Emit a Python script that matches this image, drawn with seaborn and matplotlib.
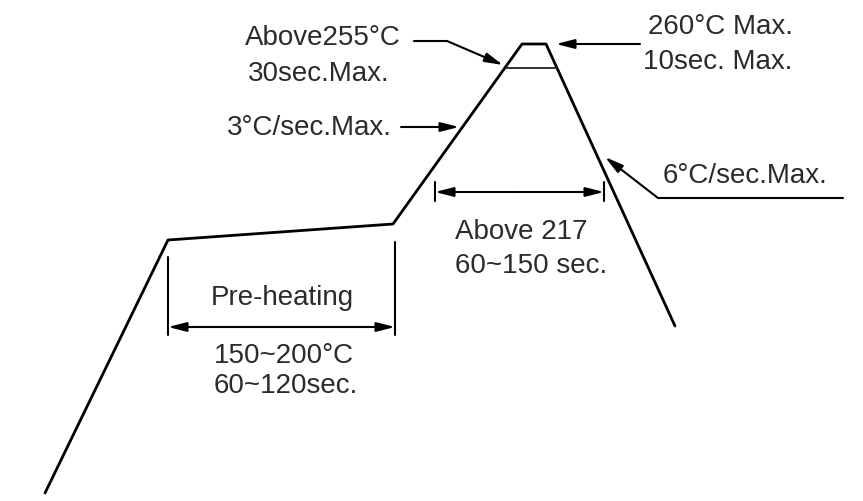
import numpy as np
import pandas as pd
import seaborn as sns
import matplotlib.pyplot as plt

# reflow profile outline, in picture units (x to the right, y downward)
profile_x = [45, 168, 393, 522, 546, 675]
profile_y = [493, 240, 224, 44, 44, 326]

# short line marking the 255 degree level near the peak
peak_band_x = [506, 556]
peak_band_y = [68, 68]

# labels
lbl_above255 = "Above255°C"
lbl_30sec = "30sec.Max."
lbl_ramp_up = "3°C/sec.Max."
lbl_peak = "260°C Max."
lbl_10sec = "10sec. Max."
lbl_ramp_down = "6°C/sec.Max."
lbl_above217 = "Above 217"
lbl_217_time = "60~150 sec."
lbl_preheat = "Pre-heating"
lbl_preheat_temp = "150~200°C"
lbl_preheat_time = "60~120sec."

sns.set_style("white")
plt.rcParams['font.family'] = ['Liberation Sans', 'DejaVu Sans']

fig = plt.figure(figsize=(8.63, 5.01), dpi=100)
ax = fig.add_axes([0, 0, 1, 1])

prof = pd.DataFrame({"x": profile_x, "y": profile_y})
sns.lineplot(data=prof, x="x", y="y", sort=False, color="black", lw=2.0, ax=ax)
sns.lineplot(x=peak_band_x, y=peak_band_y, color="#333333", lw=1.4, ax=ax)

ax.set_xlim(0, 863)
ax.set_ylim(501, 0)
ax.axis("off")

txt = dict(color="#2b2b2b", fontsize=20, va="center")
arrow = dict(arrowstyle="-|>,head_length=1.1,head_width=0.28", color="black",
             lw=1.5, shrinkA=0, shrinkB=0)
plain = dict(color="black", lw=1.5)

# upper left labels
ax.text(245, 38, lbl_above255, ha="left", **txt)
ax.text(248, 74, lbl_30sec, ha="left", **txt)
ax.plot([414, 447], [41, 41], **plain)
ax.annotate("", xy=(503, 65), xytext=(447, 41), arrowprops=arrow)

ax.text(227, 128, lbl_ramp_up, ha="left", **txt)
ax.annotate("", xy=(459, 127), xytext=(401, 127), arrowprops=arrow)

# peak labels
ax.text(648, 27, lbl_peak, ha="left", **txt)
ax.text(643, 62, lbl_10sec, ha="left", **txt)
ax.annotate("", xy=(556, 44), xytext=(640, 44), arrowprops=arrow)

# ramp down label
ax.text(663, 176, lbl_ramp_down, ha="left", **txt)
ax.plot([658, 843], [198, 198], **plain)
ax.annotate("", xy=(605, 157), xytext=(658, 198), arrowprops=arrow)

# above 217 dimension
ax.plot([435, 435], [182, 201], **plain)
ax.plot([604, 604], [182, 201], **plain)
ax.annotate("", xy=(435, 192), xytext=(520, 192), arrowprops=arrow)
ax.annotate("", xy=(604, 192), xytext=(519, 192), arrowprops=arrow)
ax.text(455, 232, lbl_above217, ha="left", **txt)
ax.text(455, 266, lbl_217_time, ha="left", **txt)

# preheat dimension
ax.plot([168, 168], [257, 335], **plain)
ax.plot([395, 395], [242, 335], **plain)
ax.annotate("", xy=(168, 327), xytext=(282, 327), arrowprops=arrow)
ax.annotate("", xy=(395, 327), xytext=(281, 327), arrowprops=arrow)
ax.text(282, 298, lbl_preheat, ha="center", **txt)
ax.text(284, 356, lbl_preheat_temp, ha="center", **txt)
ax.text(286, 386, lbl_preheat_time, ha="center", **txt)

fig.savefig("out.png", dpi=100, facecolor="white")
